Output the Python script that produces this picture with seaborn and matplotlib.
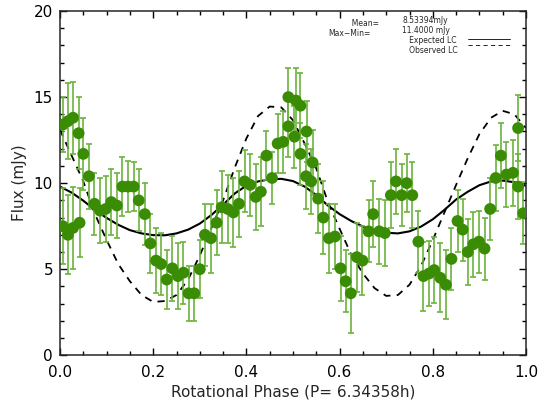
import matplotlib
matplotlib.use("Agg")
import matplotlib.pyplot as plt
import seaborn as sns
import numpy as np

sns.set_style("ticks")
plt.rcParams["font.family"] = ["DejaVu Sans"]
plt.rcParams["font.size"] = 11

# observed photometry (phase, flux in mJy, 1-sigma error)
phase = [0.006, 0.006, 0.017, 0.017, 0.028, 0.028, 0.040, 0.042, 0.050, 0.062,
         0.074, 0.086, 0.098, 0.110, 0.122, 0.134, 0.146, 0.158, 0.169, 0.182,
         0.194, 0.206, 0.217, 0.229, 0.241, 0.253, 0.265, 0.276, 0.288, 0.300,
         0.311, 0.324, 0.336, 0.347, 0.360, 0.372, 0.384, 0.396, 0.408, 0.420,
         0.431, 0.443, 0.455, 0.467, 0.479, 0.490, 0.490, 0.503, 0.506, 0.516,
         0.516, 0.528, 0.529, 0.539, 0.542, 0.554, 0.565, 0.577, 0.590, 0.602,
         0.613, 0.624, 0.637, 0.649, 0.662, 0.672, 0.685, 0.697, 0.710, 0.721,
         0.733, 0.744, 0.756, 0.769, 0.780, 0.792, 0.803, 0.816, 0.828,
         0.840, 0.853, 0.864, 0.875, 0.887, 0.899, 0.911, 0.923, 0.935, 0.946,
         0.958, 0.972, 0.983, 0.983, 0.994]
flux = [13.4, 7.5, 13.6, 7.0, 13.8, 7.4, 12.9, 7.7, 11.7, 10.4,
        8.8, 8.4, 8.5, 8.9, 8.7, 9.8, 9.8, 9.8, 9.0, 8.2,
        6.5, 5.5, 5.3, 4.4, 5.05, 4.6, 4.8, 3.6, 3.6, 5.0,
        7.0, 6.8, 7.7, 8.6, 8.5, 8.3, 8.8, 10.1, 9.9, 9.2,
        9.5, 11.6, 10.3, 12.3, 12.4, 15.0, 13.3, 12.7, 14.8, 14.5,
        11.7, 10.4, 13.0, 10.1, 11.2, 9.1, 8.0, 6.8, 6.9, 5.05,
        4.3, 3.6, 5.7, 5.5, 7.2, 8.2, 7.2, 7.1, 9.3, 10.1,
        9.3, 10.0, 9.3, 6.6, 4.6, 4.75, 4.95, 4.5, 4.1,
        5.6, 7.8, 7.3, 6.0, 6.45, 6.6, 6.2, 8.5, 10.3, 11.6,
        10.5, 10.6, 9.8, 13.2, 8.25]
flux_err = [1.6, 2.2, 2.2, 2.3, 2.1, 2.4, 2.1, 2.0, 2.1, 1.9,
            1.8, 1.9, 1.9, 1.9, 1.9, 1.7, 1.5, 1.4, 1.8, 1.8,
            1.7, 1.9, 1.8, 1.7, 1.9, 1.9, 1.8, 1.6, 1.6, 1.7,
            1.8, 2.0, 1.9, 2.1, 2.0, 2.0, 1.9, 1.8, 1.8, 1.9,
            2.0, 1.4, 1.5, 1.7, 1.8, 1.7, 1.8, 1.8, 1.9, 1.9,
            1.8, 1.9, 1.8, 1.9, 1.9, 2.0, 2.1, 2.0, 1.9, 1.9,
            1.8, 2.3, 2.0, 2.0, 1.8, 1.9, 1.9, 1.9, 1.9, 1.9,
            1.8, 1.7, 1.9, 1.8, 2.0, 1.9, 1.9, 2.0, 2.0,
            1.8, 1.8, 1.8, 1.9, 1.9, 1.8, 1.8, 1.8, 1.9, 1.9,
            1.9, 1.9, 1.9, 1.9, 1.8]

# light curves
curve_phase = [0.000, 0.025, 0.050, 0.075, 0.100, 0.125, 0.150, 0.175, 0.200, 0.225,
               0.250, 0.275, 0.300, 0.325, 0.350, 0.375, 0.400, 0.425, 0.450, 0.475,
               0.500, 0.525, 0.550, 0.575, 0.600, 0.625, 0.650, 0.675, 0.700, 0.725,
               0.750, 0.775, 0.800, 0.825, 0.850, 0.875, 0.900, 0.925, 0.950, 0.975,
               1.000]
expected_lc = [9.80, 9.45, 8.98, 8.45, 7.98, 7.58, 7.27, 7.08, 6.98, 6.97,
               7.08, 7.30, 7.65, 8.15, 8.75, 9.40, 9.85, 10.10, 10.22, 10.25,
               10.12, 9.80, 9.30, 8.70, 8.20, 7.80, 7.48, 7.25, 7.12, 7.08,
               7.20, 7.48, 7.90, 8.45, 9.05, 9.50, 9.88, 10.10, 10.15, 10.05,
               9.85]
observed_lc = [13.1, 11.6, 10.1, 8.2, 6.7, 5.3, 4.3, 3.5, 3.1, 3.15,
               3.5, 4.4, 5.8, 7.4, 9.0, 10.9, 12.6, 13.9, 14.45, 14.4,
               13.65, 12.3, 10.85, 8.9, 7.35, 5.85, 4.75, 3.9, 3.45, 3.5,
               4.1, 5.2, 6.7, 8.3, 9.9, 11.45, 12.85, 13.8, 14.2, 14.0,
               13.2]

mean_flux = "8.53394mJy"
range_flux = "11.4000 mJy"

fig = plt.figure(figsize=(5.41, 4.0), dpi=100)
ax = fig.add_axes([0.1109, 0.1118, 0.8614, 0.8607])

sns.lineplot(x=curve_phase, y=expected_lc, color="black", linewidth=1.5, ax=ax, zorder=1)
sns.lineplot(x=curve_phase, y=observed_lc, color="black", linewidth=1.3, ax=ax, zorder=1,
             linestyle=(0, (4, 3.5)))
ax.errorbar(phase, flux, yerr=flux_err, fmt="none", ecolor="#6cb33e", elinewidth=1.2,
            capsize=2.5, capthick=1.2, zorder=2)
sns.scatterplot(x=phase, y=flux, color="#3a8c04", s=72, edgecolor="none", ax=ax, zorder=3)

ax.set_xlim(0, 1)
ax.set_ylim(0, 20)
ax.set_xticks([0, 0.2, 0.4, 0.6, 0.8, 1.0])
ax.set_xticklabels(["0.0", "0.2", "0.4", "0.6", "0.8", "1.0"])
ax.set_xticks(np.arange(0, 1.001, 0.05), minor=True)
ax.set_yticks([0, 5, 10, 15, 20])
ax.set_yticks(np.arange(0, 21, 1), minor=True)
ax.tick_params(which="both", direction="in", top=True, right=True, width=1, colors="black")
ax.tick_params(which="major", length=5)
ax.tick_params(which="minor", length=3)
ax.tick_params(axis="x", pad=7)
ax.tick_params(axis="y", pad=5)
for s in ax.spines.values():
    s.set_visible(True)
    s.set_linewidth(1.1)

ax.set_xlabel("Rotational Phase (P= 6.34358h)", labelpad=3)
ax.set_ylabel("Flux (mJy)", labelpad=5)

# annotation block in the upper right (two multi-line columns)
fs = 5.5
ax.text(0.575, 0.9487, "          Mean=\nMax\u2212Min=", transform=ax.transAxes,
        ha="left", va="center", fontsize=fs, linespacing=1.15)
ax.text(0.734, 0.9294,
        mean_flux + "\n" + range_flux + "\n   Expected LC\n   Observed LC",
        transform=ax.transAxes, ha="left", va="center", fontsize=fs, linespacing=1.15)
ax.plot([0.8755, 0.9657], [0.9195, 0.9195], transform=ax.transAxes, color="black", lw=0.6)
ax.plot([0.8755, 0.9657], [0.9003, 0.9003], transform=ax.transAxes, color="black", lw=0.6,
        linestyle=(0, (5, 4)))

fig.savefig("out.png", dpi=100)
